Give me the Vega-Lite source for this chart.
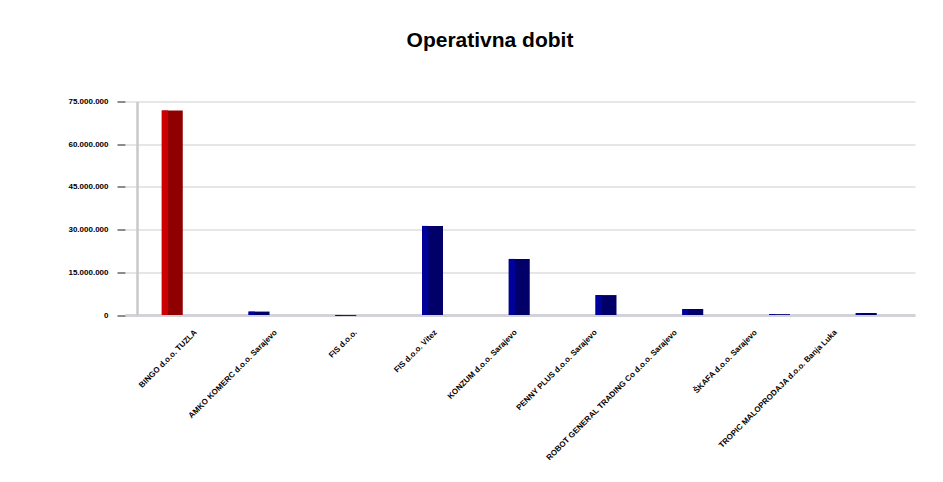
{
  "$schema": "https://vega.github.io/schema/vega-lite/v6.json",
  "autosize": "none",
  "width": 790,
  "height": 213.5,
  "padding": {"left": 125, "top": 101.5, "right": 28, "bottom": 167},
  "background": "#ffffff",
  "config": {
    "locale": {"number": {"decimal": ",", "thousands": ".", "grouping": [3], "currency": ["", ""]}},
    "view": {"stroke": null},
    "font": "Liberation Sans"
  },
  "title": {
    "text": "Operativna dobit",
    "font": "Liberation Sans",
    "fontSize": 21,
    "fontWeight": "bold",
    "color": "#000000",
    "anchor": "middle",
    "frame": "group",
    "dx": -30,
    "baseline": "alphabetic",
    "offset": 30
  },
  "data": {
    "values": [
      {"name": "BINGO d.o.o. TUZLA", "value": 71800000},
      {"name": "AMKO KOMERC d.o.o. Sarajevo", "value": 1200000},
      {"name": "FIS d.o.o.", "value": -300000},
      {"name": "FIS d.o.o. Vitez", "value": 31300000},
      {"name": "KONZUM d.o.o. Sarajevo", "value": 19700000},
      {"name": "PENNY PLUS d.o.o. Sarajevo", "value": 7000000},
      {"name": "ROBOT GENERAL TRADING Co d.o.o. Sarajevo", "value": 2100000},
      {"name": "ŠKAFA d.o.o. Sarajevo", "value": 300000},
      {"name": "TROPIC MALOPRODAJA d.o.o. Banja Luka", "value": 700000}
    ]
  },
  "resolve": {"scale": {"x": "independent"}, "axis": {"x": "independent", "y": "independent"}},
  "layer": [
    {
      "mark": {"type": "bar"},
      "encoding": {
        "x": {
          "field": "name", "type": "nominal", "sort": null,
          "scale": {"type": "band", "paddingInner": 0.758, "paddingOuter": 0.4325, "align": 0.49},
          "axis": null
        },
        "y": {
          "field": "value", "type": "quantitative",
          "scale": {"domain": [0, 75000000], "nice": false, "zero": true},
          "axis": {
            "orient": "left",
            "title": null,
            "values": [0, 15000000, 30000000, 45000000, 60000000, 75000000],
            "format": ",d",
            "domain": false,
            "ticks": true,
            "tickSize": 8,
            "tickWidth": 2,
            "tickColor": "#8c8c8c",
            "grid": true,
            "gridColor": "#dedede",
            "gridWidth": 1.6,
            "labelFont": "Liberation Sans",
            "labelFontSize": 8,
            "labelFontWeight": "bold",
            "labelColor": "#000000",
            "labelPadding": 9
          }
        },
        "color": {
          "condition": {"test": "datum.name === 'BINGO d.o.o. TUZLA'", "value": "#8f0000"},
          "value": "#000068"
        }
      }
    },
    {
      "mark": {"type": "bar", "width": {"band": 0.3}, "xOffset": -7.3},
      "encoding": {
        "x": {
          "field": "name", "type": "nominal", "sort": null,
          "scale": {"type": "band", "paddingInner": 0.758, "paddingOuter": 0.4325, "align": 0.49},
          "axis": null
        },
        "y": {"field": "value", "type": "quantitative", "axis": null},
        "color": {
          "condition": {"test": "datum.name === 'BINGO d.o.o. TUZLA'", "value": "#cc0000"},
          "value": "#00009a"
        }
      }
    },
    {
      "mark": {"type": "point", "opacity": 0},
      "encoding": {
        "x": {
          "field": "name", "type": "nominal", "sort": null,
          "scale": {"type": "point", "padding": 0.9375, "align": 0.47},
          "axis": {
            "orient": "bottom",
            "title": null,
            "domain": true,
            "domainColor": "#d2d2da",
            "domainWidth": 3,
            "ticks": false,
            "tickSize": 0,
            "grid": false,
            "labelAngle": -45,
            "labelAlign": "right",
            "labelBaseline": "middle",
            "labelPadding": 16,
            "labelFont": "Liberation Sans",
            "labelFontSize": 8,
            "labelFontWeight": "bold",
            "labelColor": "#000000",
            "labelLimit": 0
          }
        },
        "y": {
          "field": "value", "type": "quantitative",
          "axis": {
            "orient": "left",
            "title": null,
            "offset": -12,
            "labels": false,
            "ticks": false,
            "grid": false,
            "domain": true,
            "domainColor": "#c8c8c8",
            "domainWidth": 2.5
          }
        }
      }
    }
  ]
}
